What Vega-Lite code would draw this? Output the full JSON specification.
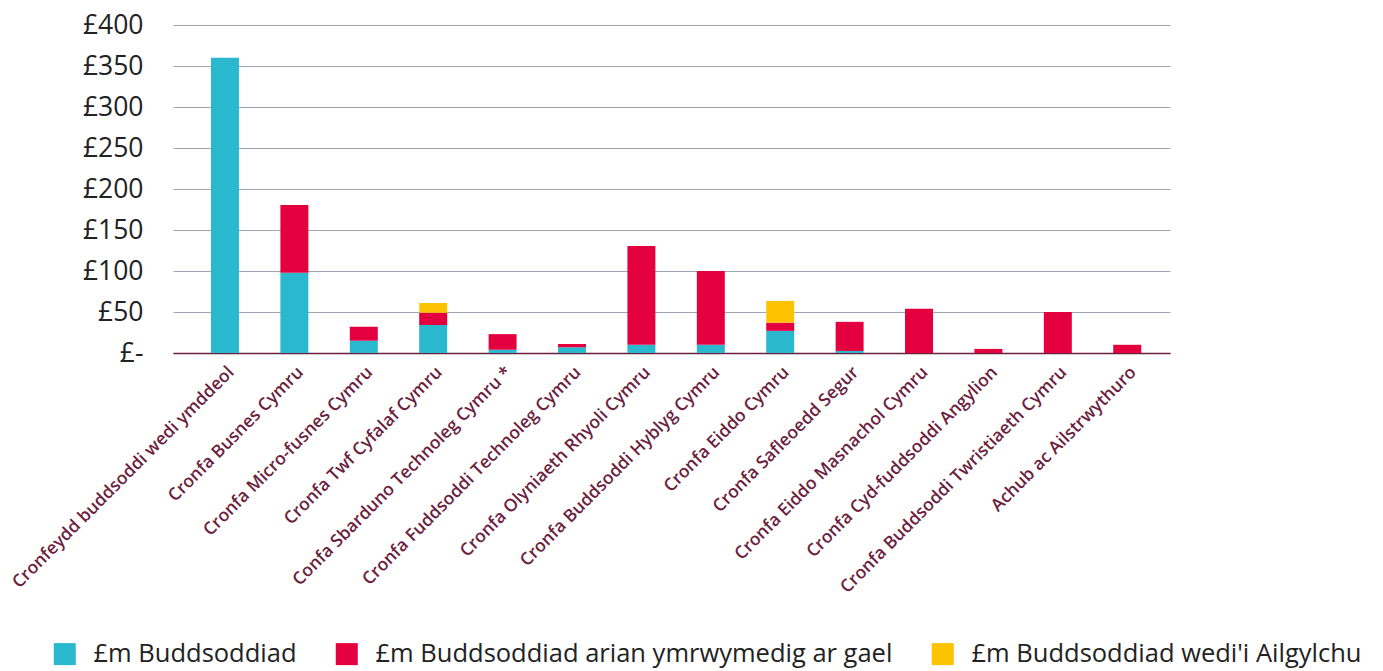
{
  "$schema": "https://vega.github.io/schema/vega-lite/v6.json",
  "width": 997,
  "height": 328,
  "autosize": {"type": "none"},
  "padding": {"left": 173, "top": 25, "right": 213, "bottom": 318},
  "background": "white",
  "data": {
    "values": [
      {"fund": "Cronfeydd buddsoddi wedi ymddeol", "series": "£m Buddsoddiad", "ord": 1, "value": 360},
      {"fund": "Cronfa Busnes Cymru", "series": "£m Buddsoddiad", "ord": 1, "value": 98},
      {"fund": "Cronfa Busnes Cymru", "series": "£m Buddsoddiad arian ymrwymedig ar gael", "ord": 2, "value": 82.5},
      {"fund": "Cronfa Micro-fusnes Cymru", "series": "£m Buddsoddiad", "ord": 1, "value": 15},
      {"fund": "Cronfa Micro-fusnes Cymru", "series": "£m Buddsoddiad arian ymrwymedig ar gael", "ord": 2, "value": 17},
      {"fund": "Cronfa Twf Cyfalaf Cymru", "series": "£m Buddsoddiad", "ord": 1, "value": 34},
      {"fund": "Cronfa Twf Cyfalaf Cymru", "series": "£m Buddsoddiad arian ymrwymedig ar gael", "ord": 2, "value": 15},
      {"fund": "Cronfa Twf Cyfalaf Cymru", "series": "£m Buddsoddiad wedi'i Ailgylchu", "ord": 3, "value": 12},
      {"fund": "Confa Sbarduno Technoleg Cymru *", "series": "£m Buddsoddiad", "ord": 1, "value": 4},
      {"fund": "Confa Sbarduno Technoleg Cymru *", "series": "£m Buddsoddiad arian ymrwymedig ar gael", "ord": 2, "value": 19},
      {"fund": "Cronfa Fuddsoddi Technoleg Cymru", "series": "£m Buddsoddiad", "ord": 1, "value": 7},
      {"fund": "Cronfa Fuddsoddi Technoleg Cymru", "series": "£m Buddsoddiad arian ymrwymedig ar gael", "ord": 2, "value": 4},
      {"fund": "Cronfa Olyniaeth Rhyoli Cymru", "series": "£m Buddsoddiad", "ord": 1, "value": 10},
      {"fund": "Cronfa Olyniaeth Rhyoli Cymru", "series": "£m Buddsoddiad arian ymrwymedig ar gael", "ord": 2, "value": 120.5},
      {"fund": "Cronfa Buddsoddi Hyblyg Cymru", "series": "£m Buddsoddiad", "ord": 1, "value": 10},
      {"fund": "Cronfa Buddsoddi Hyblyg Cymru", "series": "£m Buddsoddiad arian ymrwymedig ar gael", "ord": 2, "value": 90},
      {"fund": "Cronfa Eiddo Cymru", "series": "£m Buddsoddiad", "ord": 1, "value": 27},
      {"fund": "Cronfa Eiddo Cymru", "series": "£m Buddsoddiad arian ymrwymedig ar gael", "ord": 2, "value": 10},
      {"fund": "Cronfa Eiddo Cymru", "series": "£m Buddsoddiad wedi'i Ailgylchu", "ord": 3, "value": 26.5},
      {"fund": "Cronfa Safleoedd Segur", "series": "£m Buddsoddiad", "ord": 1, "value": 2.5},
      {"fund": "Cronfa Safleoedd Segur", "series": "£m Buddsoddiad arian ymrwymedig ar gael", "ord": 2, "value": 35.5},
      {"fund": "Cronfa Eiddo Masnachol Cymru", "series": "£m Buddsoddiad arian ymrwymedig ar gael", "ord": 2, "value": 54},
      {"fund": "Cronfa Cyd-fuddsoddi Angylion", "series": "£m Buddsoddiad arian ymrwymedig ar gael", "ord": 2, "value": 5},
      {"fund": "Cronfa Buddsoddi Twristiaeth Cymru", "series": "£m Buddsoddiad arian ymrwymedig ar gael", "ord": 2, "value": 50},
      {"fund": "Achub ac Ailstrwythuro", "series": "£m Buddsoddiad arian ymrwymedig ar gael", "ord": 2, "value": 10}
    ]
  },
  "mark": {"type": "bar"},
  "encoding": {
    "x": {
      "field": "fund",
      "type": "nominal",
      "sort": null,
      "scale": {"paddingInner": 0.597, "paddingOuter": 0.481, "align": 0.569},
      "axis": {
        "title": null,
        "labelAngle": -45,
        "labelFont": "Open Sans",
        "labelFontSize": 17.5,
        "labelFontWeight": 600,
        "labelColor": "#6B1E3E",
        "labelPadding": 10,
        "labelLimit": 400,
        "ticks": false,
        "domain": true,
        "domainColor": "#6B1E3E",
        "domainWidth": 1.5,
        "grid": false
      }
    },
    "y": {
      "field": "value",
      "type": "quantitative",
      "stack": "zero",
      "scale": {"domain": [0, 400]},
      "axis": {
        "title": null,
        "values": [0, 50, 100, 150, 200, 250, 300, 350, 400],
        "labelExpr": "datum.value == 0 ? '£-' : '£' + datum.label",
        "labelFont": "Open Sans",
        "labelFontSize": 26.5,
        "labelColor": "#222222",
        "labelPadding": 30,
        "ticks": false,
        "domain": false,
        "grid": true,
        "gridColor": "#A0A5B5",
        "gridWidth": 1
      }
    },
    "color": {
      "field": "series",
      "type": "nominal",
      "scale": {
        "domain": ["£m Buddsoddiad", "£m Buddsoddiad arian ymrwymedig ar gael", "£m Buddsoddiad wedi'i Ailgylchu"],
        "range": ["#29B8CE", "#E4003F", "#FDC300"]
      },
      "legend": {
        "title": null,
        "orient": "none",
        "legendX": -121,
        "legendY": 616,
        "direction": "horizontal",
        "columns": 3,
        "symbolType": "square",
        "symbolSize": 484,
        "symbolStrokeWidth": 0,
        "symbolOpacity": 1,
        "labelFont": "Open Sans",
        "labelFontSize": 25.5,
        "labelColor": "#222222",
        "labelLimit": 800,
        "labelOffset": 16,
        "columnPadding": 37
      }
    },
    "order": {"field": "ord", "type": "quantitative"}
  },
  "config": {"view": {"stroke": null}}
}
